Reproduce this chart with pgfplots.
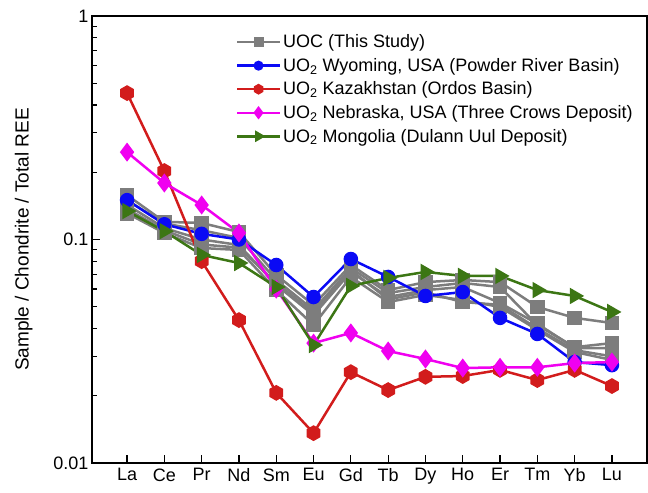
\documentclass[border=0pt]{standalone}
\usepackage{fontspec}
\setmainfont{Liberation Sans}
\usepackage{pgfplots}
\pgfplotsset{compat=1.18}
\definecolor{uocgray}{RGB}{125,125,125}
\definecolor{wyblue}{RGB}{10,10,245}
\definecolor{kzred}{RGB}{210,28,28}
\definecolor{nbmag}{RGB}{240,0,240}
\definecolor{mggreen}{RGB}{60,118,20}
\pgfdeclareplotmark{hexagon*}{%
  \pgfpathmoveto{\pgfqpointpolar{30}{\pgfplotmarksize}}%
  \pgfpathlineto{\pgfqpointpolar{90}{\pgfplotmarksize}}%
  \pgfpathlineto{\pgfqpointpolar{150}{\pgfplotmarksize}}%
  \pgfpathlineto{\pgfqpointpolar{210}{\pgfplotmarksize}}%
  \pgfpathlineto{\pgfqpointpolar{270}{\pgfplotmarksize}}%
  \pgfpathlineto{\pgfqpointpolar{330}{\pgfplotmarksize}}%
  \pgfpathclose
  \pgfusepathqfillstroke}
\begin{document}
\begin{tikzpicture}
\begin{axis}[
  scale only axis, width=555pt, height=447pt,
  ymode=log, ymin=0.01, ymax=1,
  xmin=-0.94, xmax=13.94,
  xtick={0,...,13},
  xticklabels={La,Ce,Pr,Nd,Sm,Eu,Gd,Tb,Dy,Ho,Er,Tm,Yb,Lu},
  ytick={0.01,0.1,1}, yticklabels={0.01,0.1,1},
  minor ytick={0.02,0.03,0.04,0.05,0.06,0.07,0.08,0.09,0.2,0.3,0.4,0.5,0.6,0.7,0.8,0.9},
  xtick pos=bottom, ytick pos=left,
  tick align=inside,
  major tick length=8pt, minor tick length=5pt,
  every tick/.style={black, line width=1.2pt},
  axis line style={line width=1.5pt},
  /pgf/number format/assume math mode=true,
  tick label style={font=\fontsize{18}{20}\selectfont},
  xticklabel style={yshift=-2pt},
  ylabel={Sample / Chondrite / Total REE},
  ylabel style={font=\fontsize{19}{22}\selectfont, at={(axis description cs:-0.123,0.5)}, anchor=center},
  legend style={draw=none, fill=none, at={(axis description cs:0.259,0.965)}, anchor=north west,
    font=\fontsize{18}{20}\selectfont, row sep=3pt, inner sep=0pt,
    nodes={inner xsep=2pt, inner ysep=3pt}},
  legend cell align=left,
  legend image code/.code={\draw[mark repeat=2,mark phase=2, every mark/.append style={scale=0.62}] plot coordinates {(0cm,0cm) (0.75cm,0cm) (1.5cm,0cm)};},
  every axis plot/.append style={line width=2.5pt},
]
% UOC gray lines
\addplot[uocgray, mark=square*, mark size=6pt, mark options={solid}] coordinates {
(0,0.158) (1,0.120) (2,0.1186) (3,0.108) (4,0.0694) (5,0.0509) (6,0.0769) (7,0.0594) (8,0.0645) (9,0.0659) (10,0.0645) (11,0.0499) (12,0.0446) (13,0.0423)};
\addlegendentry{UOC (This Study)}
\addplot[uocgray, mark=square*, mark size=6pt, forget plot] coordinates {
(0,0.150) (1,0.118) (2,0.110) (3,0.1016) (4,0.0659) (5,0.0484) (6,0.0746) (7,0.0576) (8,0.0613) (9,0.0639) (10,0.0613) (11,0.0414) (12,0.0330) (13,0.0344)};
\addplot[uocgray, mark=square*, mark size=6pt, forget plot] coordinates {
(0,0.143) (1,0.1125) (2,0.100) (3,0.0945) (4,0.0626) (5,0.0459) (6,0.0716) (7,0.0553) (8,0.0594) (9,0.0613) (10,0.0520) (11,0.0420) (12,0.0327) (13,0.0327)};
\addplot[uocgray, mark=square*, mark size=6pt, forget plot] coordinates {
(0,0.137) (1,0.110) (2,0.095) (3,0.092) (4,0.0640) (5,0.0470) (6,0.0730) (7,0.0540) (8,0.0580) (9,0.0525) (10,0.0510) (11,0.0400) (12,0.0320) (13,0.0300)};
\addplot[uocgray, mark=square*, mark size=6pt, forget plot] coordinates {
(0,0.131) (1,0.107) (2,0.0916) (3,0.0898) (4,0.0594) (5,0.0414) (6,0.0680) (7,0.0525) (8,0.0565) (9,0.0536) (10,0.0499) (11,0.0394) (12,0.0314) (13,0.0289)};
% Wyoming
\addplot[wyblue, mark=*, mark size=6pt] coordinates {
(0,0.150) (1,0.117) (2,0.106) (3,0.100) (4,0.0769) (5,0.0553) (6,0.0818) (7,0.0680) (8,0.0559) (9,0.0582) (10,0.0446) (11,0.0378) (12,0.0283) (13,0.0274)};
\addlegendentry{UO\textsubscript{2} Wyoming, USA (Powder River Basin)}
% Kazakhstan
\addplot[kzred, mark=hexagon*, mark size=6.5pt] coordinates {
(0,0.452) (1,0.2025) (2,0.080) (3,0.0436) (4,0.0206) (5,0.0136) (6,0.0255) (7,0.0212) (8,0.0243) (9,0.0245) (10,0.0261) (11,0.0235) (12,0.0261) (13,0.0221)};
\addlegendentry{UO\textsubscript{2} Kazakhstan (Ordos Basin)}
% Nebraska
\addplot[nbmag, mark=diamond*, mark size=7.5pt] coordinates {
(0,0.246) (1,0.179) (2,0.1427) (3,0.107) (4,0.060) (5,0.0344) (6,0.0382) (7,0.0317) (8,0.0292) (9,0.0266) (10,0.0268) (11,0.0268) (12,0.0280) (13,0.0283)};
\addlegendentry{UO\textsubscript{2} Nebraska, USA (Three Crows Deposit)}
% Mongolia
\addplot[mggreen, mark=triangle*, mark size=7pt, mark options={rotate=-90}] coordinates {
(0,0.134) (1,0.109) (2,0.0853) (3,0.0785) (4,0.0613) (5,0.0337) (6,0.0620) (7,0.0673) (8,0.0716) (9,0.0687) (10,0.0687) (11,0.0594) (12,0.0559) (13,0.0474)};
\addlegendentry{UO\textsubscript{2} Mongolia (Dulann Uul Deposit)}
\end{axis}
\pgfresetboundingbox
\useasboundingbox ([xshift=-92pt,yshift=-29pt]current axis.south west) rectangle ([xshift=1pt,yshift=16pt]current axis.north east);
\end{tikzpicture}
\end{document}
